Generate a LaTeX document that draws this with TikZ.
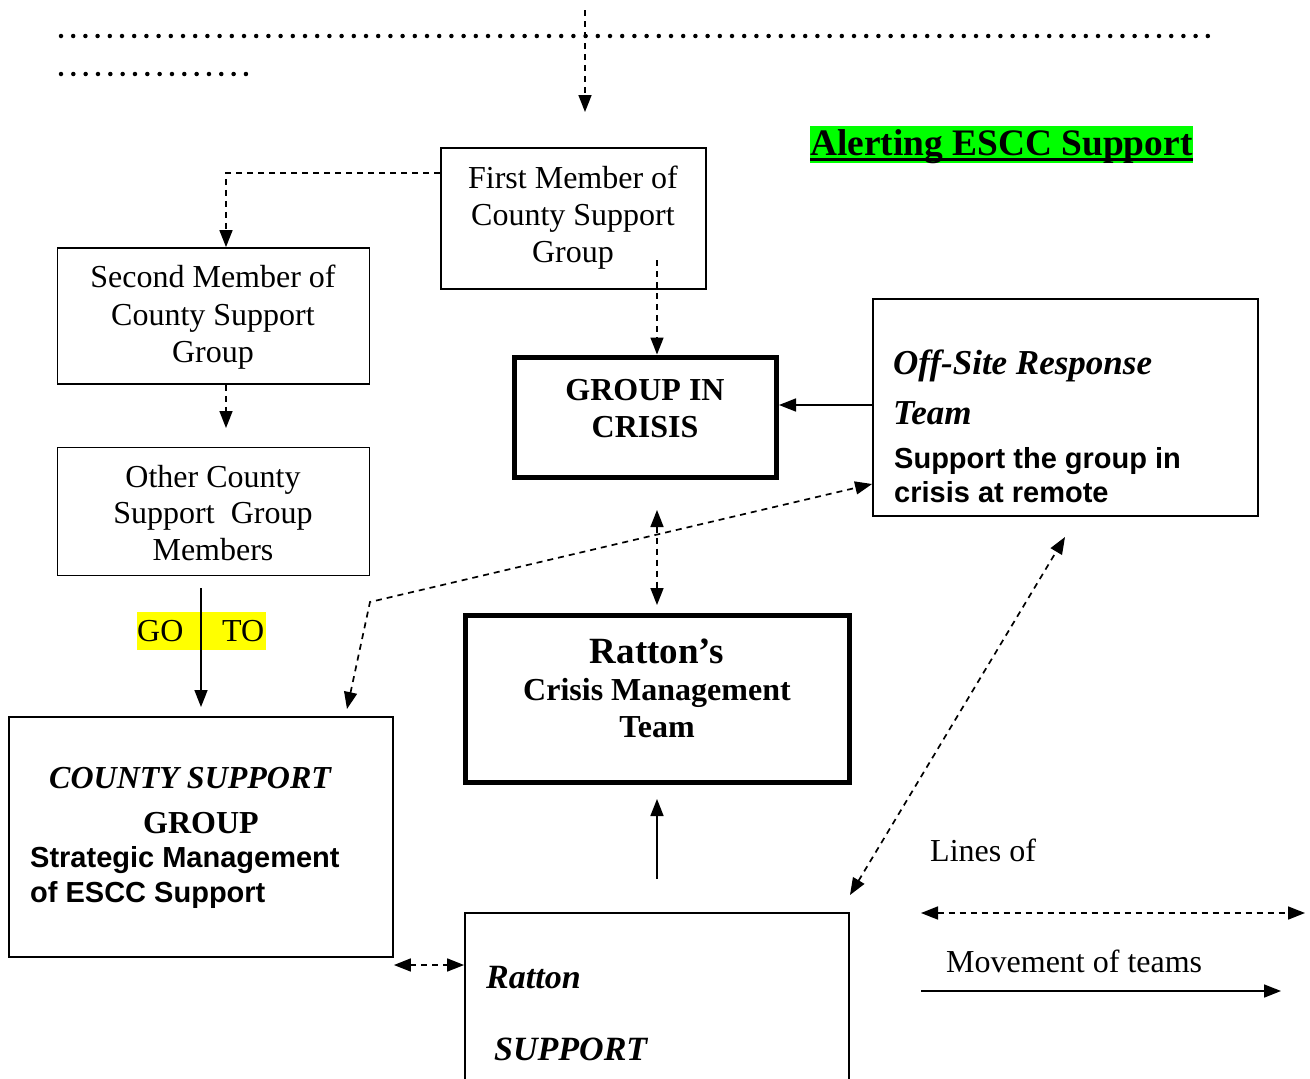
\documentclass[tikz,border=0pt]{standalone}
\usepackage{fontspec}
\setmainfont{Liberation Serif}
\newfontfamily\arialf{Liberation Sans}
\usetikzlibrary{arrows.meta,calc}
\definecolor{hlgreen}{RGB}{0,255,0}
\definecolor{hlyellow}{RGB}{255,255,0}
\begin{document}
\begin{tikzpicture}[x=1pt,y=-1pt,
  box/.style={draw, line width=1.8pt, inner sep=0pt},
  heavybox/.style={draw, line width=5pt, inner sep=0pt},
  dsh/.style={line width=1.7pt, dash pattern=on 6pt off 5pt},
  sld/.style={line width=1.7pt},
  tip/.style={-{Triangle[length=17pt,width=13pt]}},
  tips/.style={{Triangle[length=17pt,width=13pt]}-{Triangle[length=17pt,width=13pt]}},
  rm/.style={font=\fontsize{32}{37}\selectfont, inner sep=0pt, anchor=base},
  rml/.style={font=\fontsize{32}{37}\selectfont, inner sep=0pt, anchor=base west},
  bf/.style={font=\fontsize{32}{37}\selectfont\bfseries, inner sep=0pt, anchor=base},
  bi/.style={font=\fontsize{35}{40}\selectfont\bfseries\itshape, inner sep=0pt, anchor=base west},
  sf/.style={font=\arialf\fontsize{29}{34}\selectfont\bfseries, inner sep=0pt, anchor=base west},
]
\clip (0,0) rectangle (1310,1079);
\fill[white] (0,0) rectangle (1310,1079);

% dotted lines at top
\draw[line width=4.5pt, line cap=round, dash pattern=on 0pt off 12.2pt] (61,36) -- (1208,36);
\draw[line width=4.5pt, line cap=round, dash pattern=on 0pt off 12.33pt] (61,74) -- (247,74);
\coordinate (topstart) at (585,10);
\coordinate (topend) at (585,112);
\draw[dsh,tip] (topstart) -- (topend);

% title
\node[fill=hlgreen, inner xsep=0pt, inner ysep=0pt, text height=29pt, text depth=8pt, anchor=base west,
      font=\fontsize{37.4}{42}\selectfont\bfseries] (alert) at (810,155) {Alerting ESCC Support};
\draw[line width=3pt] ($(alert.base west)+(0,4.5)$) -- ($(alert.base east)+(0,4.5)$);

% boxes
\node[box, minimum width=265pt, minimum height=141pt] (first) at (573.5,218.5) {};
\node[box, minimum width=312pt, minimum height=136pt] (second) at (213.5,316) {};
\node[box, minimum width=312pt, minimum height=128pt] (other) at (213.5,511.5) {};
\node[heavybox, minimum width=262pt, minimum height=120pt] (grp) at (645.5,417) {};
\node[box, minimum width=385pt, minimum height=217pt] (offsite) at (1065.5,407.5) {};
\node[heavybox, minimum width=384pt, minimum height=167pt] (ratcmt) at (657.5,699) {};
\node[box, minimum width=384pt, minimum height=240pt] (csg) at (201,837) {};
\node[box, minimum width=384pt, minimum height=197pt] (ratsup) at (657,1011.5) {};

% texts
\node[rm] (f1) at (573,188) {First Member of};
\node[rm] (f2) at (573,225) {County Support};
\node[rm] (f3) at (573,262) {Group};

\node[rm] (s1) at (213,287) {Second Member of};
\node[rm] (s2) at (213,325) {County Support};
\node[rm] (s3) at (213,362) {Group};

\node[rm] (o1) at (213,487) {Other County};
\node[rm] (o2) at (213,523) {Support\ \ Group};
\node[rm] (o3) at (213,560) {Members};

\node[bf] (g1) at (645,400) {GROUP IN};
\node[bf] (g2) at (645,437) {CRISIS};

\node[bi] (r1) at (893,374) {Off-Site Response};
\node[bi] (r2) at (893,424) {Team};
\node[sf] (r3) at (894,468) {Support the group in};
\node[sf] (r4) at (894,502) {crisis at remote};

\node[bf, font=\fontsize{37}{42}\selectfont\bfseries] (m1) at (657,663) {Ratton’s};
\node[bf] (m2) at (657,700) {Crisis Management};
\node[bf] (m3) at (657,737) {Team};

\node[bi, font=\fontsize{32}{37}\selectfont\bfseries\itshape] (c1) at (49,788) {COUNTY SUPPORT};
\node[bf] (c2) at (201,833) {GROUP};
\node[sf] (c3) at (30,867) {Strategic Management};
\node[sf] (c4) at (30,902) {of ESCC Support};

\node[bi, font=\fontsize{34}{39}\selectfont\bfseries\itshape] (t1) at (486,988) {Ratton};
\node[bi, font=\fontsize{34}{39}\selectfont\bfseries\itshape] (t2) at (494,1060) {SUPPORT};

% GO TO highlight
\fill[hlyellow] (137,612) rectangle (266,650);
\node[rml] (go) at (137,641) {GO};
\node[rml] (to) at (222,641) {TO};

% legend
\node[rml] (l1) at (930,861) {Lines of};
\node[rml] (l2) at (946,972) {Movement of teams};
\coordinate (la) at (921,913);
\coordinate (lb) at (1305,913);
\coordinate (lc) at (921,991);
\coordinate (ld) at (1281,991);
\draw[dsh,tips] (la) -- (lb);
\draw[sld,tip] (lc) -- (ld);

% connectors
\draw[dsh,tip] (first.west |- 0,173) -| (226,0 |- second.north);
\coordinate (fin) at (657,260);
\draw[dsh,tip] (fin) -- (fin |- grp.north);
\coordinate (sEnd) at (226,428);
\draw[dsh,tip] (226,0 |- second.south) -- (sEnd);
\coordinate (oStart) at (201,588);
\coordinate (oEnd) at (201,707);
\draw[sld,tip] (oStart) -- (oEnd);
\draw[sld,tip] (offsite.west |- 0,405) -- (grp.east |- 0,405);
\coordinate (gA) at (657,510);
\coordinate (gB) at (657,605);
\draw[dsh,tips] (gA) -- (gB);
\coordinate (bend) at (370,602);
\coordinate (csgIn) at (347,709);
\draw[dsh,tips] (csgIn) -- (bend) -- (offsite.west |- 0,484);
\coordinate (supUp) at (657,879);
\coordinate (cmtIn) at (657,799);
\draw[sld,tip] (supUp) -- (cmtIn);
\coordinate (dA) at (850,895);
\coordinate (dB) at (1065,537);
\draw[dsh,tips] (dA) -- (dB);
\draw[dsh,tips] (csg.east |- 0,965) -- (ratsup.west |- 0,965);
\end{tikzpicture}
\end{document}
